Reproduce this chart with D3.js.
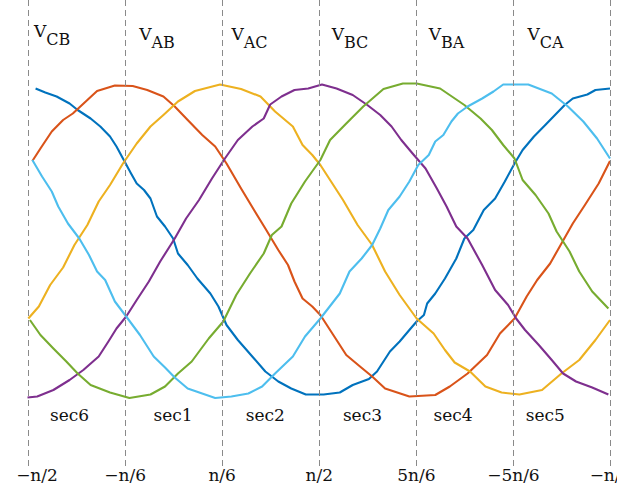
<!DOCTYPE html>
<html>
<head>
<meta charset="utf-8">
<script src="https://cdn.jsdelivr.net/npm/d3@7"></script>
<style>
  html, body { margin: 0; padding: 0; background: #fff; }
  svg { display: block; }
  text { font-family: "DejaVu Serif", serif; fill: #111; }
</style>
</head>
<body>
<svg id="chart" width="617" height="494"></svg>
<script>
// ---- data (x: electrical angle in degrees, y: line voltage in V) ----
const tickAngles = [-90, -30, 30, 90, 150, 210, 270];
const tickLabels = ["\u2212n/2", "\u2212n/6", "n/6", "n/2", "5n/6", "\u22125n/6", "\u2212n/2"];

const sectorNames  = ["sec6", "sec1", "sec2", "sec3", "sec4", "sec5"];
const sectorAngles = [-64, 0, 57, 117, 173, 230];

const seriesNames   = ["CB", "AB", "AC", "BC", "BA", "CA"];
const seriesColors  = ["#0072BD", "#D95319", "#EDB120", "#7E2F8E", "#77AC30", "#4DBEEE"];
const labelAngles   = [-86, -21, 36, 98, 158, 219];

const vCB = [[-85,305],[-79,297],[-72,289],[-64,275],[-59,262],[-51,245],[-45,229],[-39,209],[-35,189],[-30,159],[-26,135],[-22.5,115],[-18,102],[-14,85],[-10,49],[-5,29],[0,5],[3,-25],[9,-48],[15,-75],[23,-105],[28,-131],[33,-168],[40,-198],[50,-235],[57,-261],[65,-281],[73,-295],[82,-307],[93,-307],[103,-303],[111,-288],[121,-276],[126,-261],[134,-221],[140,-201],[146,-178],[150.5,-161],[155,-148],[157,-125],[162,-105],[168,-75],[175,-35],[180,5],[185.5,22],[192,62],[199,85],[205,119],[211,155],[216,182],[223,209],[230,232],[236,252],[242,272],[247,285],[256,293],[261,302],[270,305]];
const vAB = [[-87,160],[-82,185],[-75,219],[-68,242],[-62,255],[-53,282],[-47,300],[-36,311],[-25,310],[-16,302],[-6,289],[1,269],[9,242],[18,212],[26,189],[33,155],[42,105],[50,62],[57,25],[65,-18],[71,-48],[75,-81],[80,-115],[86,-131],[91,-148],[99,-188],[107,-228],[115.5,-251],[123,-271],[131,-295],[146,-311],[162,-308],[171,-291],[182,-265],[194,-228],[202,-185],[211,-155],[218.5,-111],[225,-78],[233,-45],[240,-5],[247,35],[254.5,72],[263,115],[270,160]];
const vAC = [[-89.5,-155],[-83,-131],[-76,-88],[-68,-53],[-61,-8],[-53,32],[-46,79],[-39,112],[-31,155],[-22.5,195],[-14,229],[-6,252],[3,279],[13.5,300],[29,313],[42,304],[54,289],[63,259],[74,229],[80,192],[86,172],[91,152],[97,122],[105,82],[114,32],[123,-8],[131,-61],[140,-108],[150.5,-155],[161,-185],[168,-218],[174,-243],[183.5,-261],[193,-291],[203,-303],[214,-307],[228,-298],[240,-265],[251,-238],[261,-198],[270,-158]];
const vBC = [[-90,-313],[-84,-311],[-74,-298],[-64,-278],[-55.5,-258],[-46,-231],[-40,-201],[-35,-175],[-29,-151],[-22.5,-118],[-15,-81],[-8,-41],[1,5],[8,45],[16,82],[24,125],[32,165],[40,202],[49,229],[56,245],[60,273],[67,289],[75,302],[83.5,305],[92,313],[101,305],[111,292],[120,272],[128,252],[135,229],[141,202],[148,175],[156,145],[163,105],[169,69],[175,29],[182,5],[191,-48],[199,-98],[207,-128],[212,-155],[217.5,-178],[226,-208],[234,-238],[241,-265],[249,-281],[259,-293],[269,-307]];
const vBA = [[-88.5,-158],[-82,-188],[-74,-215],[-66,-241],[-59,-265],[-51,-288],[-39,-303],[-27,-314],[-14,-307],[-5,-291],[3,-265],[11.5,-241],[22,-195],[31,-161],[39,-108],[47.5,-65],[56,-25],[61,12],[67,29],[73,75],[81.5,119],[91,162],[97,202],[107,235],[117.5,269],[130,304],[142,315],[150.5,315],[165,305],[180,272],[190,245],[197,222],[204,192],[211,165],[216,122],[224,92],[232,55],[237,19],[245,-21],[251,-61],[259,-101],[269,-135]];
const vCA = [[-87,162],[-81,129],[-75,99],[-71,69],[-65,35],[-58,5],[-52,-28],[-47,-61],[-42,-78],[-36,-121],[-29,-151],[-20.5,-188],[-12,-231],[-5,-253],[1,-273],[9,-295],[26,-314],[36,-311],[46.5,-305],[55,-291],[63,-265],[74,-231],[81.5,-191],[91,-155],[103,-105],[109,-61],[116.5,-35],[123,-8],[128,25],[133,62],[140,89],[146,119],[151.5,152],[158,172],[162,199],[167,212],[172,239],[176,255],[182,269],[191,285],[198,299],[204,313],[219.5,313],[234,295],[244,269],[253.5,239],[262,205],[270,165]];

const seriesData = [vCB, vAB, vAC, vBC, vBA, vCA];

// ---- drawing ----
const svg = d3.select("#chart");
const x = d3.scaleLinear().domain([-90, 270]).range([27.5, 610]);
const y = d3.scaleLinear().domain([-313, 313]).range([397.5, 84.5]);

// curves
const line = d3.line().x(d => x(d[0])).y(d => y(d[1]));
svg.append("g").selectAll("path")
  .data(seriesData)
  .join("path")
  .attr("d", line)
  .attr("fill", "none")
  .attr("stroke", (d, i) => seriesColors[i])
  .attr("stroke-width", 2.1)
  .attr("stroke-linejoin", "round")
  .attr("stroke-linecap", "butt");

// dashed sector boundaries
svg.append("g").selectAll("line")
  .data(tickAngles)
  .join("line")
  .attr("x1", d => Math.round(x(d)) + 0.5)
  .attr("x2", d => Math.round(x(d)) + 0.5)
  .attr("y1", 0)
  .attr("y2", 466)
  .attr("stroke", "#8a8a8a")
  .attr("stroke-width", 1)
  .attr("stroke-dasharray", "6,4");

// tick labels via a bottom axis
const axis = d3.axisBottom(x)
  .tickValues(tickAngles)
  .tickFormat((d, i) => tickLabels[i])
  .tickSize(0)
  .tickPadding(0);
const ag = svg.append("g").attr("transform", "translate(0,481)").call(axis);
ag.select(".domain").remove();
ag.selectAll("text")
  .attr("font-family", "DejaVu Serif")
  .attr("font-size", 17)
  .attr("fill", "#111")
  .attr("dy", 0)
  .attr("dx", (d, i) => i === 0 ? 9 : 0);

// sector labels
svg.append("g").selectAll("text")
  .data(sectorNames)
  .join("text")
  .attr("x", (d, i) => x(sectorAngles[i]))
  .attr("y", 421)
  .attr("text-anchor", "middle")
  .attr("font-size", 17)
  .text(d => d);

// voltage labels
const vl = svg.append("g").selectAll("text")
  .data(seriesNames)
  .join("text")
  .attr("x", (d, i) => x(labelAngles[i]))
  .attr("y", (d, i) => i === 0 ? 37 : 40)
  .attr("font-size", 17);
vl.append("tspan").text("V");
vl.append("tspan").attr("dy", 8).attr("font-size", 16).text(d => d);
</script>
</body>
</html>
